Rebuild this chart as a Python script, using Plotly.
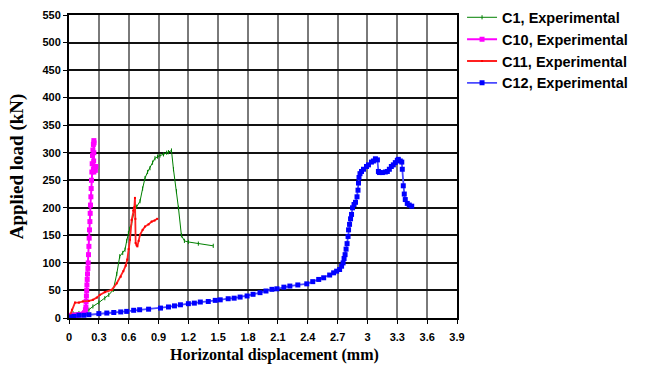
import plotly.graph_objects as go

# ---- data ----
c1_x = [0, 0.04, 0.1, 0.14, 0.2, 0.24, 0.3, 0.36, 0.4, 0.445, 0.48, 0.51, 0.54, 0.563, 0.58, 0.597, 0.61, 0.63, 0.65, 0.68,
        0.714, 0.74, 0.764, 0.79, 0.814, 0.84, 0.864, 0.89, 0.915, 0.95, 0.982, 1.0, 1.03, 1.05, 1.08, 1.1, 1.13, 1.16, 1.2, 1.3, 1.45]
c1_y = [0, 9, 9, 10, 15, 21, 28, 36, 42, 51, 80, 112, 118, 124, 140, 154, 162, 172, 190, 202,
        212, 235, 254, 265, 272, 282, 290, 293, 295, 297, 300, 301, 304, 270, 230, 200, 150, 140, 138, 135, 131]

c10_x = [0, 0.01, 0.02, 0.04, 0.06, 0.08, 0.1, 0.12, 0.14, 0.15, 0.16, 0.165, 0.17, 0.172, 0.175, 0.178, 0.18, 0.183, 0.186, 0.19,
         0.193, 0.196, 0.2, 0.203, 0.206, 0.21, 0.213, 0.216, 0.22, 0.223, 0.226, 0.23, 0.233, 0.236, 0.24, 0.245, 0.25, 0.252, 0.25, 0.248,
         0.245, 0.25, 0.26, 0.27, 0.265]
c10_y = [0, 3, 5, 5, 5, 5, 6, 6, 7, 8, 10, 15, 20, 30, 40, 50, 60, 70, 80, 90,
         100, 115, 130, 145, 160, 175, 190, 205, 220, 235, 250, 265, 280, 295, 305, 315, 322, 318, 300, 285,
         270, 265, 270, 275, 268]

c11_x = [0, 0.03, 0.06, 0.1, 0.14, 0.2, 0.24, 0.28, 0.31, 0.36, 0.43, 0.48, 0.52, 0.546, 0.57, 0.586, 0.6, 0.613, 0.63, 0.645,
         0.657, 0.663, 0.667, 0.67, 0.68, 0.687, 0.7, 0.714, 0.74, 0.764, 0.8, 0.831, 0.86, 0.887]
c11_y = [0, 15, 28, 28, 30, 31, 33, 37, 42, 47, 51, 63, 75, 85, 95, 106, 125, 142, 178, 195,
         201, 218, 180, 136, 132, 130, 140, 151, 160, 166, 170, 175, 177, 180]

c12_x = [0, 0.02, 0.05, 0.1, 0.15, 0.2, 0.3, 0.38, 0.45, 0.52, 0.58, 0.65, 0.71, 0.8, 0.92, 1.0, 1.06, 1.12, 1.2, 1.26,
         1.32, 1.4, 1.47, 1.52, 1.6, 1.66, 1.72, 1.79, 1.85, 1.92, 1.98, 2.04, 2.09, 2.16, 2.22, 2.3, 2.39, 2.45, 2.51, 2.56,
         2.62, 2.66, 2.69, 2.72, 2.74, 2.755, 2.765, 2.775, 2.785, 2.795, 2.805, 2.81, 2.82, 2.83, 2.84, 2.85, 2.865, 2.88, 2.895, 2.905,
         2.91, 2.915, 2.925, 2.94, 2.96, 2.99, 3.01, 3.04, 3.06, 3.08, 3.1, 3.11, 3.12, 3.15, 3.18, 3.2, 3.22, 3.24, 3.26, 3.28,
         3.3, 3.31, 3.33, 3.345, 3.35, 3.36, 3.37, 3.38, 3.4, 3.42, 3.445]
c12_y = [0, 2, 3, 5, 5, 6, 8, 9, 10, 11, 12, 14, 15, 16, 18, 20, 22, 24, 26, 27,
         29, 30, 32, 33, 35, 36, 38, 40, 43, 46, 49, 52, 53, 56, 58, 60, 62, 66, 70, 73,
         78, 82, 85, 88, 94, 100, 108, 115, 125, 135, 148, 160, 170, 180, 188, 200, 206, 210, 220, 232,
         245, 255, 262, 266, 270, 275, 278, 283, 285, 289, 287, 266, 264, 264, 265, 266, 270, 275, 278, 282,
         286, 288, 285, 283, 270, 240, 225, 215, 208, 205, 203]

x_ticks = [0, 0.3, 0.6, 0.9, 1.2, 1.5, 1.8, 2.1, 2.4, 2.7, 3, 3.3, 3.6, 3.9]
x_tick_text = ["0", "0.3", "0.6", "0.9", "1.2", "1.5", "1.8", "2.1", "2.4", "2.7", "3", "3.3", "3.6", "3.9"]
y_ticks = list(range(0, 551, 50))

series_names = ["C1, Experimental", "C10, Experimental", "C11, Experimental", "C12, Experimental"]
x_title = "Horizontal displacement (mm)"
y_title = "Applied load (kN)"

fig = go.Figure()
fig.add_trace(go.Scatter(x=c1_x, y=c1_y, name=series_names[0], mode="lines+markers",
                         line=dict(color="#008000", width=1),
                         marker=dict(symbol="line-ns", size=3, line=dict(color="#008000", width=1))))
fig.add_trace(go.Scatter(x=c10_x, y=c10_y, name=series_names[1], mode="lines+markers",
                         line=dict(color="#ff00ff", width=2),
                         marker=dict(symbol="square", size=5, color="#ff00ff")))
fig.add_trace(go.Scatter(x=c11_x, y=c11_y, name=series_names[2], mode="lines+markers",
                         line=dict(color="#ff2020", width=1.8),
                         marker=dict(symbol="square", size=2, color="#ff0000")))
fig.add_trace(go.Scatter(x=c12_x, y=c12_y, name=series_names[3], mode="lines+markers",
                         line=dict(color="#4a4aff", width=1.8),
                         marker=dict(symbol="square", size=5, color="#0000ff")))

tick_font = dict(family="Liberation Sans, Arial", size=11, color="black", weight="bold")
x_title_font = dict(family="Liberation Serif, Times New Roman", size=16, color="black", weight="bold")
y_title_font = dict(family="Liberation Serif, Times New Roman", size=19, color="black", weight="bold")

fig.update_layout(
    width=653, height=374,
    margin=dict(l=69, r=196, t=15, b=56, autoexpand=False),
    paper_bgcolor="white", plot_bgcolor="white",
    showlegend=True,
    legend=dict(x=1.013, y=1.045, xanchor="left", yanchor="top",
                font=dict(family="Liberation Sans, Arial", size=14.5, color="black", weight="bold"),
                bgcolor="rgba(0,0,0,0)", tracegroupgap=0),
    xaxis=dict(range=[0, 3.9], tickvals=x_ticks, ticktext=x_tick_text, showgrid=True,
               gridcolor="#7a7a7a", gridwidth=2, zeroline=False,
               showline=True, linecolor="black", linewidth=2, mirror=True,
               ticks="outside", ticklen=4, tickcolor="black", tickfont=tick_font,
               ticklabelstandoff=4),
    yaxis=dict(range=[0, 550], tickvals=y_ticks, showgrid=True,
               gridcolor="#111111", gridwidth=1.5, zeroline=False,
               showline=True, linecolor="black", linewidth=2, mirror=True,
               ticks="outside", ticklen=4, tickcolor="black", tickfont=tick_font,
               title=dict(text=y_title, font=y_title_font, standoff=14)),
    annotations=[dict(text=x_title, xref="paper", yref="paper", x=0.53, y=-0.122,
                      xanchor="center", yanchor="middle", showarrow=False, font=x_title_font)],
)

fig.write_html("out.html")
